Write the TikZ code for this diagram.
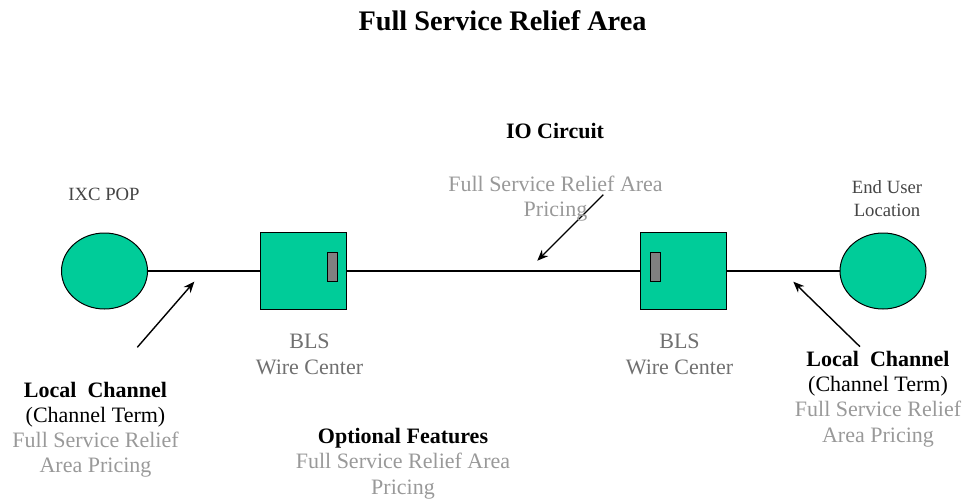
\documentclass[tikz,border=0pt]{standalone}
\usepackage{fontspec}
\setmainfont{Liberation Serif}
\usetikzlibrary{shapes.geometric,arrows.meta}
\definecolor{sitegreen}{HTML}{00CC99}
\definecolor{pricegray}{HTML}{999999}
\definecolor{blsgray}{HTML}{707070}
\definecolor{sitegray}{HTML}{454545}
\tikzset{
  site/.style={ellipse, draw=black, fill=sitegreen, line width=1pt, minimum width=86pt, minimum height=76pt, inner sep=0pt},
  wirebox/.style={rectangle, draw=black, fill=sitegreen, line width=1pt, minimum width=86pt, minimum height=77pt, inner sep=0pt},
  pin/.style={rectangle, draw=black, fill=gray!100, line width=1pt, minimum width=10pt, minimum height=29pt, inner sep=0pt},
  lbl/.style={anchor=base, align=center, inner sep=0pt, font=\fontsize{22}{25.3}\selectfont},
  pointer/.style={line width=1.4pt, -{Stealth[length=11pt,width=9pt]}}
}
\begin{document}
\begin{tikzpicture}[x=1pt,y=-1pt]
  \useasboundingbox (0,0) rectangle (967,503);
  % sites and wire centers
  \node[site] (ixc) at (104.5,271) {};
  \node[wirebox] (blsA) at (303.7,271) {};
  \node[pin] (pinA) at (332.3,266.7) {};
  \node[wirebox] (blsB) at (683.7,271) {};
  \node[pin] (pinB) at (655.2,266.7) {};
  \node[site] (eul) at (883,271) {};
  % circuit
  \draw[line width=1.2pt] (ixc.east) -- (blsA.west);
  \draw[line width=1.2pt] (blsA.east) -- (blsB.west);
  \draw[line width=1.2pt] (blsB.east) -- (eul.west);
  % pointers
  \coordinate (lcA) at (137.3,347.3);
  \coordinate (lcAtip) at (194.3,281.7);
  \coordinate (ioc) at (603.3,194.7);
  \coordinate (ioctip) at (537.3,260.7);
  \coordinate (lcB) at (860,346.7);
  \coordinate (lcBtip) at (793.3,281.7);
  \draw[pointer] (lcA) -- (lcAtip);
  \draw[pointer] (ioc) -- (ioctip);
  \draw[pointer] (lcB) -- (lcBtip);
  % labels (base = baseline of the last line)
  \node[lbl, font=\fontsize{28.3}{32}\selectfont\bfseries] (title) at (502.5,31) {Full Service Relief Area};
  \node[lbl, font=\fontsize{22}{25}\selectfont\bfseries] (iotitle) at (555,139) {IO Circuit};
  \node[lbl, text=pricegray, font=\fontsize{22}{25}\selectfont] (ioprice) at (555.5,216.7) {Full Service Relief Area\\Pricing};
  \node[lbl, text=sitegray, font=\fontsize{18.7}{23}\selectfont] (ixclbl) at (104,200.7) {IXC POP};
  \node[lbl, text=sitegray, font=\fontsize{18.7}{23}\selectfont] (eullbl) at (887,216) {End User\\Location};
  \node[lbl, text=blsgray, font=\fontsize{22}{26.8}\selectfont] (blsAlbl) at (309.5,374.8) {BLS\\Wire Center};
  \node[lbl, text=blsgray, font=\fontsize{22}{26.8}\selectfont] (blsBlbl) at (679.5,374.8) {BLS\\Wire Center};
  \node[lbl] (lcAlbl) at (95.5,472.9) {\textbf{Local~~Channel}\\(Channel Term)\\\textcolor{pricegray}{Full Service Relief}\\\textcolor{pricegray}{Area Pricing}};
  \node[lbl, font=\fontsize{22}{25.1}\selectfont] (lcBlbl) at (878,442) {\textbf{Local~~Channel}\\(Channel Term)\\\textcolor{pricegray}{Full Service Relief}\\\textcolor{pricegray}{Area Pricing}};
  \node[lbl, font=\fontsize{22}{25.5}\selectfont] (optlbl) at (403,494) {\textbf{Optional Features}\\\textcolor{pricegray}{Full Service Relief Area}\\\textcolor{pricegray}{Pricing}};
\end{tikzpicture}
\end{document}
